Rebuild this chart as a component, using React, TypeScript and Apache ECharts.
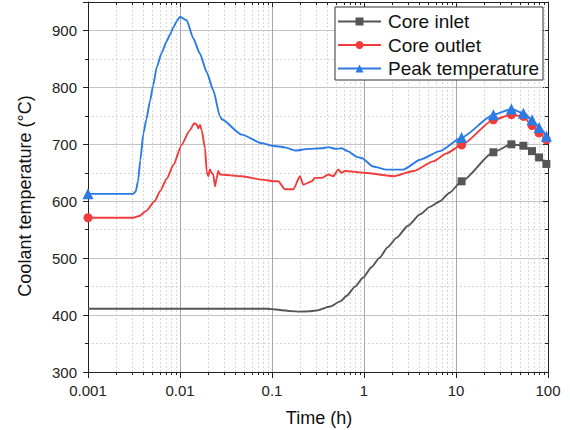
import React, { useEffect, useRef } from "react";
import * as echarts from "echarts";

// ---- data ----
const inletTime = [0.001, 0.01, 0.05, 0.09, 0.1, 0.122, 0.16, 0.2, 0.25, 0.3, 0.43, 0.55, 0.65, 0.8, 0.98, 1.2, 1.48, 1.8, 2.27, 3, 4.07, 5.2, 6.7, 8.5, 11.5, 25.5, 40, 54, 67, 80, 96];
const inletTemp = [411, 411, 411, 411, 410.5, 409, 407, 406, 406.5, 408, 415, 424, 434, 450, 466, 484, 501, 519, 536, 557, 577, 590, 600, 615, 635, 686, 700, 697.5, 688, 677, 665.5];

const outletTime = [0.001, 0.0031, 0.0036, 0.0043, 0.0053, 0.0061, 0.0072, 0.0085, 0.0104, 0.0128, 0.0143, 0.0152, 0.0158, 0.0165, 0.0172, 0.0187, 0.0195, 0.0203, 0.0212, 0.022, 0.023, 0.024, 0.0251, 0.0261, 0.0272, 0.047, 0.077, 0.108, 0.117, 0.138, 0.171, 0.201, 0.219, 0.27, 0.293, 0.347, 0.41, 0.464, 0.525, 0.572, 0.621, 1.02, 2.09, 3.46, 5.65, 7.9, 11.5, 25.5, 40, 54, 67, 80, 96];
const outletTemp = [571, 571, 574, 583, 600, 618, 640, 664, 699, 725, 737, 735, 728, 734, 725, 693, 652, 644, 656, 650, 647, 626, 641, 653, 647, 644, 638, 635, 635, 621, 621, 644, 629, 635, 641, 641, 647, 644, 656, 650, 653, 650, 644, 653, 670, 684, 699, 743, 752, 749, 733, 720, 708];

const peakTime = [0.001, 0.0031, 0.0033, 0.0035, 0.0037, 0.004, 0.0043, 0.00472, 0.0051, 0.00558, 0.0063, 0.00716, 0.0078, 0.00845, 0.0092, 0.01, 0.0118, 0.01395, 0.0165, 0.0195, 0.023, 0.0272, 0.0284, 0.0469, 0.0773, 0.1, 0.138, 0.178, 0.248, 0.347, 0.41, 0.49, 0.572, 0.675, 0.83, 0.94, 1.26, 1.77, 2.68, 4.07, 6.7, 11.5, 25.5, 40, 54, 67, 80, 96];
const peakTemp = [613, 613, 617, 635, 672, 719, 743, 776, 803, 835, 860, 881, 893, 905, 916, 924, 918, 886, 859, 827, 795, 749, 744, 717, 702, 697.5, 694.6, 689, 692, 693, 695, 692, 693, 687.6, 678, 676, 661, 655.6, 655.6, 673, 688, 712, 752, 762, 754.5, 743, 729.5, 714];

const inletMarkerTimes = [11.5, 25.5, 40, 54, 67, 80, 96];
const outletMarkerTimes = [0.001, 11.5, 25.5, 40, 54, 67, 80, 96];
const peakMarkerTimes = [0.001, 11.5, 25.5, 40, 54, 67, 80, 96];

const xTickLabels = ["0.001", "0.01", "0.1", "1", "10", "100"];
const X_MIN = 0.001;
const X_MAX = 100;
const Y_MIN = 300;
const Y_MAX = 950;

const minorXTicks: number[] = [];
for (let e = -3; e < 2; e++) {
  for (let k = 2; k <= 9; k++) minorXTicks.push(Number((k * Math.pow(10, e)).toPrecision(6)));
}

const FONT = "Liberation Sans, Arial, Helvetica, sans-serif";

function buildData(times: number[], temps: number[], markers: number[]) {
  return times.map((t, i) => {
    const item: any = { value: [t, temps[i]] };
    if (!markers.includes(t)) item.symbol = "none";
    return item;
  });
}

export default function App() {
  const ref = useRef<HTMLDivElement>(null);
  useEffect(() => {
    if (!ref.current) return;
    const chart = echarts.init(ref.current, undefined, { renderer: "svg" });
    const axisLabelFmt = (v: number) => {
      const idx = Math.round(Math.log10(v)) + 3;
      return xTickLabels[idx] ?? String(v);
    };
    const lineCommon = { type: "line", showSymbol: true, smooth: 0.2, smoothMonotone: "x" };
    chart.setOption({
      animation: false,
      backgroundColor: "#fff",
      grid: { left: 88, right: 22, top: 2, bottom: 58, containLabel: false },
      legend: {
        orient: "vertical",
        left: 335,
        top: 7,
        data: ["Core inlet", "Core outlet", "Peak temperature"],
        itemWidth: 43,
        itemHeight: 10,
        itemGap: 4.5,
        padding: [5, 4, 2, 2],
        borderColor: "#333",
        borderWidth: 1,
        backgroundColor: "#fff",
        textStyle: { fontSize: 19, color: "#111", fontFamily: FONT, padding: [0, 0, 0, 2] },
      },
      xAxis: [
        {
          type: "log",
          logBase: 10,
          min: X_MIN,
          max: X_MAX,
          axisLine: { show: true, lineStyle: { color: "#222", width: 1 } },
          axisTick: { show: true, inside: false, length: 6, lineStyle: { color: "#222" } },
          axisLabel: { fontSize: 15, color: "#222", fontFamily: FONT, margin: 11, formatter: axisLabelFmt },
          splitLine: { show: true, lineStyle: { color: "#a8a8a8", width: 1 } },
        },
        {
          type: "log",
          logBase: 10,
          min: X_MIN,
          max: X_MAX,
          position: "top",
          axisLine: { show: true, onZero: false, lineStyle: { color: "#222", width: 1 } },
          axisTick: { show: true, inside: true, length: 5, lineStyle: { color: "#222" } },
          axisLabel: { show: false },
          splitLine: { show: false },
        },
      ],
      yAxis: [
        {
          type: "value",
          min: Y_MIN,
          max: Y_MAX,
          interval: 100,
          axisLine: { show: true, lineStyle: { color: "#222", width: 1 } },
          axisTick: { show: true, inside: false, length: 5, lineStyle: { color: "#222" } },
          minorTick: { show: true, splitNumber: 2, length: 3, lineStyle: { color: "#222" } },
          axisLabel: { fontSize: 15, color: "#222", fontFamily: FONT, margin: 11, showMaxLabel: false },
          splitLine: { show: true, lineStyle: { color: "#c4c4c4", width: 1 } },
          minorSplitLine: { show: true, lineStyle: { color: "#d6d6d6", width: 1, type: [2, 2] } },
        },
        {
          type: "value",
          min: Y_MIN,
          max: Y_MAX,
          interval: 100,
          position: "right",
          axisLine: { show: true, onZero: false, lineStyle: { color: "#222", width: 1 } },
          axisTick: { show: true, inside: true, length: 5, lineStyle: { color: "#222" } },
          minorTick: { show: true, splitNumber: 2, length: 3, lineStyle: { color: "#222" } },
          axisLabel: { show: false },
          splitLine: { show: false },
        },
      ],
      graphic: [
        {
          type: "text",
          x: 25,
          y: 196,
          rotation: Math.PI / 2,
          style: {
            text: "Coolant temperature (°C)",
            fontSize: 18,
            fontFamily: FONT,
            fill: "#111",
            align: "center",
            verticalAlign: "middle",
          },
        },
        {
          type: "text",
          x: 319,
          y: 418,
          style: {
            text: "Time (h)",
            fontSize: 18,
            fontFamily: FONT,
            fill: "#111",
            align: "center",
            verticalAlign: "middle",
          },
        },
      ],
      series: [
        {
          type: "custom",
          name: "minor",
          silent: true,
          z: 1,
          data: minorXTicks.map((v) => [v, Y_MIN]),
          encode: { x: 0, y: 1 },
          renderItem: (params: any, api: any) => {
            const v = api.value(0);
            const top = api.coord([v, Y_MAX]);
            const bot = api.coord([v, Y_MIN]);
            const x = Math.round(top[0]) + 0.5;
            const yt = Math.round(top[1]);
            const yb = Math.round(bot[1]);
            return {
              type: "group",
              children: [
                { type: "line", shape: { x1: x, y1: yt, x2: x, y2: yb }, style: { stroke: "#d6d6d6", lineWidth: 1, lineDash: [2, 2] } },
                { type: "line", shape: { x1: x, y1: yb, x2: x, y2: yb + 3 }, style: { stroke: "#222", lineWidth: 1 } },
                { type: "line", shape: { x1: x, y1: yt, x2: x, y2: yt + 3 }, style: { stroke: "#222", lineWidth: 1 } },
              ],
            };
          },
        },
        {
          ...lineCommon,
          name: "Core inlet",
          z: 3,
          data: buildData(inletTime, inletTemp, inletMarkerTimes),
          symbol: "rect",
          symbolSize: 8,
          color: "#555555",
          lineStyle: { color: "#555555", width: 1.9 },
          itemStyle: { color: "#555555" },
        },
        {
          ...lineCommon,
          name: "Core outlet",
          z: 4,
          data: buildData(outletTime, outletTemp, outletMarkerTimes),
          symbol: "circle",
          symbolSize: 9,
          color: "#f03c3c",
          lineStyle: { color: "#f03c3c", width: 1.9 },
          itemStyle: { color: "#f03c3c" },
        },
        {
          ...lineCommon,
          name: "Peak temperature",
          z: 5,
          data: buildData(peakTime, peakTemp, peakMarkerTimes),
          symbol: "triangle",
          symbolSize: 11,
          color: "#2b7be6",
          lineStyle: { color: "#2b7be6", width: 1.9 },
          itemStyle: { color: "#2b7be6" },
        },
      ],
    });
    return () => chart.dispose();
  }, []);
  return (
    <div
      ref={ref}
      style={{ position: "fixed", left: 0, top: 0, width: 570, height: 430, background: "#fff" }}
    />
  );
}
